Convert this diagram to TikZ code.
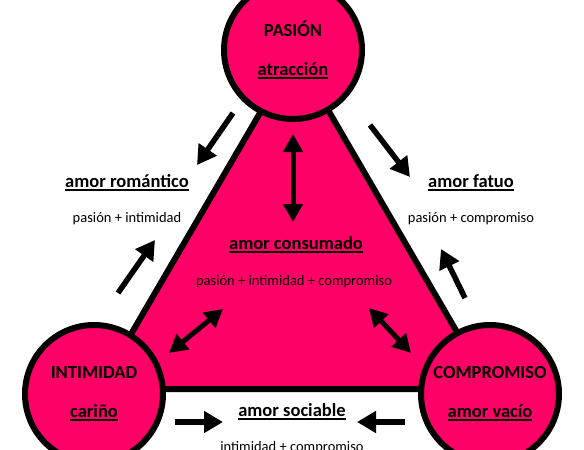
\documentclass[tikz,border=0pt]{standalone}
\usepackage{fontspec}
\setmainfont{Carlito}
\usetikzlibrary{arrows.meta}
\definecolor{amorpink}{RGB}{255,0,102}
\newcommand{\subrayado}[1]{\setbox0\hbox{#1}\rlap{\vrule height -1.6pt depth 3.4pt width \wd0}\box0}

\begin{document}
\begin{tikzpicture}[x=1pt,y=-1pt,
  vertice/.style={circle,draw=black,fill=amorpink,line width=6pt,minimum size=138pt,inner sep=0pt,align=center,font=\bfseries\fontsize{18.5}{22}\selectfont},
  titulo/.style={font=\bfseries\fontsize{18.5}{22}\selectfont},
  suma/.style={font=\fontsize{14.5}{17}\selectfont},
  flecha/.style={line width=5.5pt,-{Triangle[length=19pt,width=21pt]}},
  doble/.style={line width=5pt,{Triangle[length=18pt,width=19pt]}-{Triangle[length=18pt,width=19pt]}}]
\useasboundingbox (0,0) rectangle (584,450);
\fill[white] (0,0) rectangle (584,450);
\coordinate (tp) at (295,53);
\coordinate (ti) at (99,389);
\coordinate (tc) at (490,389);
\draw[line width=6pt,fill=amorpink,line join=miter] (tp) -- (ti) -- (tc) -- cycle;
\node[vertice] (pasion) at (293,50) {PASIÓN\\[17pt]\subrayado{atracción}};
\node[vertice] (intimidad) at (94,394) {INTIMIDAD\\[17pt]\subrayado{cariño}};
\node[vertice] (compromiso) at (490,394) {COMPROMISO\\[17pt]\subrayado{amor vacío}};
\node[titulo] (romantico) at (127,183) {\subrayado{amor romántico}};
\node[suma] (romanticoSuma) at (127,219) {pasión + intimidad};
\node[titulo] (fatuo) at (471,183) {\subrayado{amor fatuo}};
\node[suma] (fatuoSuma) at (471,219) {pasión + compromiso};
\node[titulo] (consumado) at (296,245) {\subrayado{amor consumado}};
\node[suma] (consumadoSuma) at (294,282) {pasión + intimidad + compromiso};
\node[titulo] (sociable) at (292,412) {\subrayado{amor sociable}};
\node[suma] (sociableSuma) at (292,448) {intimidad + compromiso};
\coordinate (r1) at (233,113);
\coordinate (r2) at (197,165);
\coordinate (r3) at (118,293);
\coordinate (r4) at (155,240);
\coordinate (f1) at (370,125);
\coordinate (f2) at (410,177);
\coordinate (f3) at (465,298);
\coordinate (f4) at (441,249);
\coordinate (s1) at (175,422);
\coordinate (s2) at (223,422);
\coordinate (s3) at (405,422);
\coordinate (s4) at (357,422);
\coordinate (c1) at (293,134);
\coordinate (c2) at (293,222);
\coordinate (c3) at (223,309);
\coordinate (c4) at (169,353);
\coordinate (c5) at (369,308);
\coordinate (c6) at (411,353);
\draw[flecha] (r1) -- (r2);
\draw[flecha] (r3) -- (r4);
\draw[flecha] (f1) -- (f2);
\draw[flecha] (f3) -- (f4);
\draw[flecha] (s1) -- (s2);
\draw[flecha] (s3) -- (s4);
\draw[doble] (c1) -- (c2);
\draw[doble] (c3) -- (c4);
\draw[doble] (c5) -- (c6);
\end{tikzpicture}
\end{document}
